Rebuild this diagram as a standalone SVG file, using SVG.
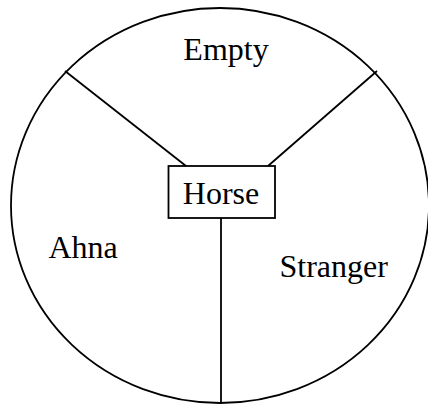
<svg xmlns="http://www.w3.org/2000/svg" width="428" height="404" viewBox="0 0 428 404">
<style>
.s{fill:none;stroke:#000;stroke-width:1.8}
.t{font-family:"Liberation Serif","Times New Roman",serif;font-size:32px;fill:#000}
</style>
<rect width="428" height="404" fill="#fff"/>
<g id="circle"><ellipse class="s" cx="220" cy="205.5" rx="209" ry="197.5"/></g>
<g id="connectors">
<line class="s" x1="65" y1="71" x2="186" y2="166"/>
<line class="s" x1="377" y1="71" x2="268" y2="166"/>
<line class="s" x1="221" y1="218" x2="221" y2="404"/>
</g>
<g id="horse">
<rect class="s" x="168.5" y="166" width="106.5" height="52" fill="#fff"/>
<text class="t" x="221" y="204" text-anchor="middle">Horse</text>
</g>
<g id="empty"><text class="t" x="226" y="60" text-anchor="middle">Empty</text></g>
<g id="ahna"><text class="t" x="48.5" y="257.5">Ahna</text></g>
<g id="stranger"><text class="t" x="279.5" y="277">Stranger</text></g>
</svg>
